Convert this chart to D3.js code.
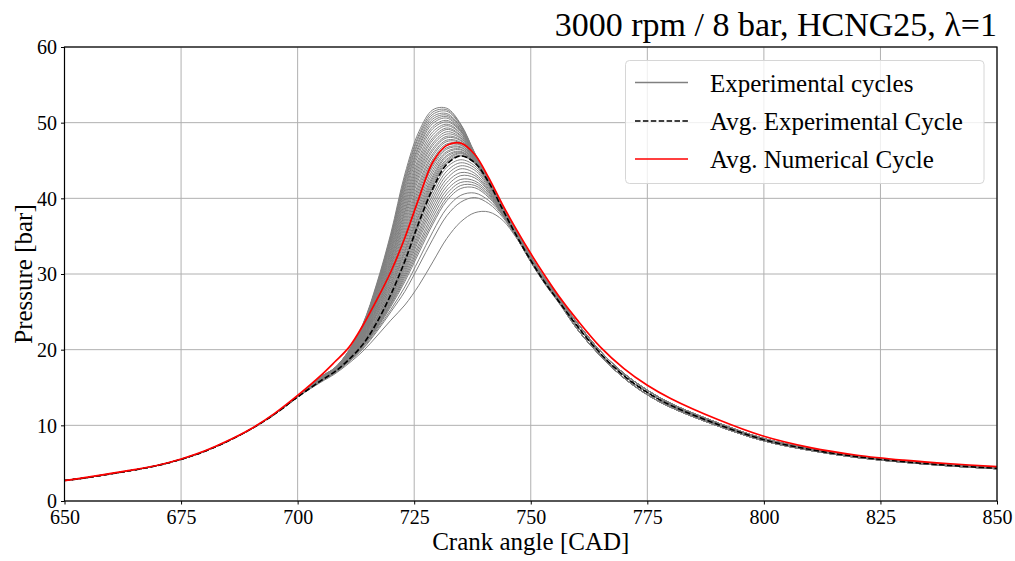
<!DOCTYPE html>
<html>
<head>
<meta charset="utf-8">
<script src="https://cdn.jsdelivr.net/npm/d3@7"></script>
<style>
  html, body { margin: 0; padding: 0; background: #ffffff; }
  svg { display: block; }
  text { font-family: "Liberation Serif", "Times New Roman", serif; fill: #000; }
</style>
</head>
<body>
<svg id="chart" width="1015" height="561"></svg>
<script>
// Crank angle samples [CAD]: compression, combustion window, expansion
const angleEarly = [650, 655, 660, 665, 670, 675, 680, 685, 690, 695, 700];
const angleWindow = [705, 708, 711, 714, 717, 720, 723, 726, 729, 732, 735, 738, 741, 744, 747, 750, 753, 756];
const angleTail = [760, 765, 770, 775, 780, 790, 800, 810, 820, 830, 840, 850];

// Compression stroke pressure shared by the measured cycles [bar]
const expEarly = [2.7, 3.1, 3.6, 4.1, 4.7, 5.5, 6.55, 7.9, 9.5, 11.45, 13.75];

// Measured cycles in the combustion window [bar]
const cycleWindow = [
  [16.4, 17.6, 19.9, 23.4, 28.8, 35.4, 43.2, 48.8, 51.7, 51.9, 49.8, 46.0, 42.6, 38.9, 35.6, 32.4, 29.5, 27.0],
  [16.4, 17.6, 19.9, 23.3, 28.6, 35.1, 42.8, 48.4, 51.4, 51.7, 49.7, 45.9, 42.5, 38.7, 35.4, 32.2, 29.3, 26.8],
  [16.4, 17.6, 19.8, 23.3, 28.5, 34.9, 42.5, 48.1, 51.1, 51.5, 49.6, 45.9, 42.4, 38.6, 35.2, 32.0, 29.1, 26.6],
  [16.4, 17.6, 19.8, 23.2, 28.3, 34.7, 42.2, 47.7, 50.8, 51.2, 49.4, 45.8, 42.4, 38.7, 35.3, 32.1, 29.2, 26.7],
  [16.4, 17.6, 19.8, 23.1, 28.2, 34.5, 41.9, 47.4, 50.5, 51.0, 49.3, 45.8, 42.3, 38.5, 35.0, 31.8, 28.9, 26.4],
  [16.3, 17.5, 19.7, 23.0, 28.0, 34.2, 41.5, 47.0, 50.2, 50.8, 49.1, 45.8, 42.4, 38.6, 35.2, 32.0, 29.1, 26.6],
  [16.3, 17.5, 19.7, 23.0, 27.9, 34.0, 41.2, 46.7, 49.9, 50.6, 49.0, 45.8, 42.5, 38.8, 35.5, 32.3, 29.4, 26.9],
  [16.3, 17.5, 19.6, 22.9, 27.7, 33.7, 40.8, 46.3, 49.5, 50.3, 48.9, 45.7, 42.3, 38.5, 35.0, 31.7, 28.8, 26.3],
  [16.3, 17.5, 19.6, 22.8, 27.6, 33.4, 40.4, 45.9, 49.2, 50.1, 48.8, 45.7, 42.3, 38.5, 35.1, 31.9, 29.0, 26.5],
  [16.3, 17.5, 19.6, 22.7, 27.4, 33.1, 40.0, 45.4, 48.8, 49.8, 48.6, 45.6, 42.3, 38.6, 35.3, 32.1, 29.2, 26.7],
  [16.3, 17.5, 19.6, 22.6, 27.2, 32.9, 39.6, 45.0, 48.4, 49.6, 48.5, 45.6, 42.2, 38.4, 35.0, 31.7, 28.8, 26.3],
  [16.2, 17.4, 19.5, 22.5, 27.0, 32.6, 39.2, 44.6, 48.0, 49.3, 48.3, 45.5, 42.2, 38.5, 35.1, 31.9, 29.0, 26.5],
  [16.2, 17.4, 19.5, 22.4, 26.9, 32.3, 38.8, 44.2, 47.7, 49.1, 48.2, 45.5, 42.4, 38.7, 35.4, 32.2, 29.3, 26.8],
  [16.2, 17.4, 19.4, 22.3, 26.7, 32.0, 38.4, 43.8, 47.3, 48.8, 48.0, 45.4, 42.2, 38.5, 35.0, 31.7, 28.8, 26.3],
  [16.2, 17.4, 19.4, 22.3, 26.5, 31.8, 38.1, 43.4, 47.0, 48.5, 47.9, 45.4, 42.3, 38.6, 35.2, 32.0, 29.1, 26.6],
  [16.2, 17.4, 19.3, 22.2, 26.3, 31.5, 37.7, 43.0, 46.6, 48.2, 47.7, 45.3, 42.3, 38.7, 35.3, 32.1, 29.2, 26.7],
  [16.2, 17.4, 19.3, 22.1, 26.2, 31.2, 37.3, 42.6, 46.3, 48.0, 47.6, 45.3, 42.1, 38.4, 35.0, 31.7, 28.8, 26.3],
  [16.2, 17.4, 19.2, 22.0, 26.0, 31.0, 36.9, 42.1, 45.9, 47.7, 47.4, 45.2, 42.2, 38.5, 35.1, 31.9, 29.0, 26.5],
  [16.2, 17.4, 19.2, 21.9, 25.8, 30.7, 36.5, 41.7, 45.6, 47.5, 47.3, 45.2, 42.3, 38.8, 35.4, 32.3, 29.4, 26.9],
  [16.1, 17.3, 19.2, 21.8, 25.6, 30.4, 36.1, 41.3, 45.2, 47.2, 47.1, 45.1, 42.1, 38.4, 34.9, 31.7, 28.8, 26.3],
  [16.1, 17.3, 19.2, 21.7, 25.5, 30.1, 35.7, 40.9, 44.9, 47.0, 47.0, 45.1, 42.2, 38.6, 35.2, 32.0, 29.1, 26.6],
  [16.1, 17.3, 19.1, 21.6, 25.3, 29.8, 35.3, 40.5, 44.5, 46.7, 46.8, 45.0, 42.2, 38.7, 35.3, 32.1, 29.2, 26.7],
  [16.1, 17.3, 19.1, 21.6, 25.1, 29.6, 34.9, 40.1, 44.2, 46.5, 46.7, 45.0, 42.0, 38.4, 34.9, 31.7, 28.8, 26.3],
  [16.1, 17.3, 19.0, 21.5, 24.9, 29.3, 34.5, 39.6, 43.8, 46.2, 46.5, 44.9, 42.1, 38.5, 35.1, 31.9, 29.0, 26.5],
  [16.1, 17.3, 19.0, 21.4, 24.8, 29.0, 34.1, 39.2, 43.4, 46.0, 46.4, 44.9, 42.2, 38.7, 35.3, 32.2, 29.3, 26.8],
  [16.1, 17.3, 18.9, 21.3, 24.6, 28.7, 33.7, 38.8, 43.0, 45.7, 46.2, 44.8, 42.0, 38.4, 34.9, 31.6, 28.8, 26.3],
  [16.1, 17.3, 18.9, 21.2, 24.4, 28.5, 33.3, 38.4, 42.7, 45.5, 46.1, 44.8, 42.1, 38.6, 35.2, 32.0, 29.1, 26.6],
  [16.0, 17.2, 18.9, 21.1, 24.2, 28.2, 33.0, 38.0, 42.4, 45.2, 46.0, 44.7, 42.1, 38.6, 35.3, 32.1, 29.2, 26.7],
  [16.0, 17.2, 18.9, 21.1, 24.1, 28.0, 32.7, 37.7, 42.1, 45.0, 45.9, 44.7, 41.9, 38.3, 34.9, 31.6, 28.8, 26.3],
  [16.0, 17.2, 18.8, 21.0, 23.9, 27.7, 32.3, 37.3, 41.8, 44.8, 45.7, 44.6, 41.9, 38.4, 35.0, 31.8, 28.9, 26.4],
  [16.0, 17.2, 18.8, 20.9, 23.8, 27.5, 32.0, 37.0, 41.5, 44.6, 45.6, 44.6, 42.0, 38.5, 35.1, 32.0, 29.1, 26.6],
  [16.0, 17.2, 18.7, 20.8, 23.7, 27.3, 31.7, 36.6, 41.0, 44.1, 45.1, 44.3, 41.8, 38.4, 35.0, 31.8, 28.9, 26.4],
  [16.0, 17.2, 18.7, 20.8, 23.6, 27.1, 31.4, 36.2, 40.5, 43.6, 44.7, 44.0, 41.6, 38.4, 35.2, 32.1, 29.2, 26.7],
  [16.0, 17.1, 18.7, 20.7, 23.5, 26.9, 31.1, 35.7, 40.0, 43.1, 44.3, 43.7, 41.4, 38.3, 35.2, 32.1, 29.2, 26.7],
  [15.9, 17.1, 18.7, 20.7, 23.4, 26.8, 30.8, 35.3, 39.5, 42.6, 43.9, 43.3, 41.2, 38.2, 35.0, 31.9, 29.0, 26.5],
  [15.9, 17.1, 18.6, 20.6, 23.3, 26.6, 30.5, 34.9, 39.0, 42.1, 43.4, 43.0, 41.0, 38.1, 34.9, 31.8, 28.9, 26.4],
  [15.9, 17.1, 18.6, 20.6, 23.2, 26.4, 30.2, 34.5, 38.5, 41.6, 43.0, 42.7, 40.9, 38.0, 34.8, 31.6, 28.7, 26.2],
  [15.9, 17.0, 18.6, 20.5, 23.1, 26.2, 29.9, 34.0, 38.0, 41.1, 42.5, 42.3, 40.7, 37.9, 34.8, 31.7, 28.8, 26.3],
  [15.9, 17.0, 18.6, 20.5, 23.0, 26.1, 29.6, 33.6, 37.5, 40.6, 42.1, 42.0, 40.5, 37.9, 35.0, 32.1, 29.2, 26.7],
  [15.9, 17.0, 18.5, 20.4, 22.9, 25.9, 29.3, 33.2, 37.0, 40.1, 41.7, 41.7, 40.3, 37.8, 35.0, 32.0, 29.1, 26.6],
  [15.9, 17.0, 18.5, 20.4, 22.8, 25.7, 29.0, 32.8, 36.6, 39.7, 41.3, 41.4, 40.1, 37.8, 34.9, 31.9, 29.0, 26.5],
  [15.8, 17.0, 18.4, 20.2, 22.6, 25.3, 28.3, 31.9, 35.6, 38.7, 40.4, 40.7, 39.7, 37.7, 34.8, 31.8, 28.9, 26.4],
  [15.8, 16.9, 18.4, 20.1, 22.4, 25.0, 27.7, 31.1, 34.6, 37.7, 39.5, 40.1, 39.3, 37.5, 34.8, 31.9, 29.0, 26.5],
  [15.7, 16.8, 18.2, 19.8, 21.8, 23.9, 25.9, 28.5, 31.6, 34.7, 36.9, 38.1, 38.2, 37.1, 34.7, 31.9, 29.0, 26.5]
];

// Expansion stroke pressure of the measured cycles [bar]
const expTails = [
  [23.5, 19.75, 16.85, 14.65, 12.9, 10.35, 8.25, 6.92, 5.95, 5.28, 4.77, 4.38],
  [23.1, 19.45, 16.55, 14.35, 12.65, 10.15, 8.1, 6.8, 5.85, 5.2, 4.7, 4.32],
  [22.7, 19.15, 16.25, 14.05, 12.4, 9.95, 7.95, 6.68, 5.75, 5.12, 4.63, 4.26]
];
const cycleTail = [0, 1, 1, 0, 2, 1, 0, 2, 1, 0, 2, 1, 0, 2, 1, 0, 2, 1, 0, 2, 1, 0, 2, 1, 0, 2, 1, 0, 2, 1, 1, 2, 0, 0, 1, 1, 2, 2, 0, 1, 1, 2, 1, 1];

// Average measured cycle [bar]
const avgExpEarly = [2.7, 3.1, 3.6, 4.1, 4.7, 5.5, 6.55, 7.9, 9.5, 11.45, 13.75];
const avgExpWindow = [15.9, 17.1, 18.7, 20.7, 23.6, 27.3, 31.7, 36.8, 41.3, 44.5, 45.6, 44.7, 42.1, 38.5, 35.0, 31.8, 28.9, 26.4];
const avgExpTail = [23.1, 19.45, 16.55, 14.35, 12.65, 10.15, 8.1, 6.8, 5.85, 5.2, 4.7, 4.32];

// Average simulated cycle [bar]
const numEarly = [2.7, 3.15, 3.65, 4.15, 4.72, 5.55, 6.6, 7.95, 9.55, 11.55, 13.95];
const numWindow = [16.6, 18.4, 20.3, 23.2, 26.6, 30.3, 34.8, 40.0, 44.8, 47.0, 47.3, 45.8, 42.7, 39.1, 35.8, 32.7, 29.8, 27.1];
const numTail = [23.9, 20.3, 17.5, 15.3, 13.55, 10.8, 8.55, 7.05, 6.05, 5.4, 4.92, 4.55];

const xTicks = [650, 675, 700, 725, 750, 775, 800, 825, 850];
const yTicks = [0, 10, 20, 30, 40, 50, 60];
const titleText = "3000 rpm / 8 bar, HCNG25, \u03bb=1";
const xLabel = "Crank angle [CAD]";
const yLabel = "Pressure [bar]";
const legendLabels = ["Experimental cycles", "Avg. Experimental Cycle", "Avg. Numerical Cycle"];

const angles = angleEarly.concat(angleWindow, angleTail);
const toPoints = vals => angles.map((a, i) => [a, vals[i]]);

const svg = d3.select("#chart");
const plot = { left: 64.5, right: 997, top: 47, bottom: 501 };

const x = d3.scaleLinear().domain([650, 850]).range([plot.left, plot.right]);
const y = d3.scaleLinear().domain([0, 60]).range([plot.bottom, plot.top]);

svg.append("defs").append("clipPath").attr("id", "plot-clip")
  .append("rect")
  .attr("x", plot.left).attr("y", plot.top)
  .attr("width", plot.right - plot.left).attr("height", plot.bottom - plot.top);

// Grid
const grid = svg.append("g").attr("stroke", "#b0b0b0").attr("stroke-width", 1);
grid.selectAll("line.gx").data(xTicks).join("line")
  .attr("x1", d => x(d)).attr("x2", d => x(d))
  .attr("y1", plot.top).attr("y2", plot.bottom);
grid.selectAll("line.gy").data(yTicks).join("line")
  .attr("x1", plot.left).attr("x2", plot.right)
  .attr("y1", d => y(d)).attr("y2", d => y(d));

const line = d3.line()
  .x(d => x(d[0]))
  .y(d => y(d[1]))
  .curve(d3.curveCatmullRom.alpha(0.5));

const lines = svg.append("g").attr("clip-path", "url(#plot-clip)");

// Individual measured cycles
lines.selectAll("path.cycle").data(cycleWindow).join("path")
  .attr("class", "cycle")
  .attr("fill", "none")
  .attr("stroke", "#808080")
  .attr("stroke-width", 1)
  .attr("d", (w, i) => line(toPoints(expEarly.concat(w, expTails[cycleTail[i]]))));

// Average measured cycle
lines.append("path")
  .attr("fill", "none")
  .attr("stroke", "#000")
  .attr("stroke-width", 1.6)
  .attr("stroke-dasharray", "5.5,2.4")
  .attr("d", line(toPoints(avgExpEarly.concat(avgExpWindow, avgExpTail))));

// Average simulated cycle
lines.append("path")
  .attr("fill", "none")
  .attr("stroke", "#ff0000")
  .attr("stroke-width", 1.7)
  .attr("d", line(toPoints(numEarly.concat(numWindow, numTail))));

// Axes
const xAxis = svg.append("g")
  .attr("transform", `translate(0,${plot.bottom})`)
  .call(d3.axisBottom(x).tickValues(xTicks).tickSize(3.5).tickPadding(4).tickFormat(d3.format("d")));
const yAxis = svg.append("g")
  .attr("transform", `translate(${plot.left},0)`)
  .call(d3.axisLeft(y).tickValues(yTicks).tickSize(3.5).tickPadding(4).tickFormat(d3.format("d")));
[xAxis, yAxis].forEach(g => {
  g.select(".domain").remove();
  g.selectAll(".tick line").attr("stroke", "#000").attr("stroke-width", 1);
  g.selectAll(".tick text")
    .style("font-family", "'Liberation Serif', serif")
    .style("font-size", "20px")
    .attr("fill", "#000");
});
xAxis.selectAll(".tick text").attr("dy", "0.78em");
yAxis.selectAll(".tick text").attr("dy", "0.34em");

// Frame
svg.append("rect")
  .attr("x", plot.left).attr("y", plot.top)
  .attr("width", plot.right - plot.left).attr("height", plot.bottom - plot.top)
  .attr("fill", "none").attr("stroke", "#000").attr("stroke-width", 1.2);

// Labels
svg.append("text")
  .attr("x", (plot.left + plot.right) / 2).attr("y", 550)
  .attr("text-anchor", "middle")
  .style("font-size", "25px")
  .text(xLabel);
svg.append("text")
  .attr("transform", `translate(32,${(plot.top + plot.bottom) / 2}) rotate(-90)`)
  .attr("text-anchor", "middle")
  .style("font-size", "25px")
  .text(yLabel);
svg.append("text")
  .attr("x", plot.right).attr("y", 36)
  .attr("text-anchor", "end")
  .style("font-size", "34px")
  .text(titleText);

// Legend
const legend = svg.append("g");
legend.append("rect")
  .attr("x", 625.5).attr("y", 60.5).attr("width", 358.5).attr("height", 123)
  .attr("rx", 4).attr("ry", 4)
  .attr("fill", "#ffffff").attr("fill-opacity", 0.8)
  .attr("stroke", "#d6d6d6").attr("stroke-width", 1);
const legendStyles = [
  { color: "#808080", width: 1.5, dash: null },
  { color: "#000000", width: 1.6, dash: "5.5,2.4" },
  { color: "#ff0000", width: 1.7, dash: null }
];
const rowY = [82.5, 121, 159];
legendLabels.forEach((label, i) => {
  const s = legendStyles[i];
  legend.append("line")
    .attr("x1", 635).attr("x2", 688)
    .attr("y1", rowY[i]).attr("y2", rowY[i])
    .attr("stroke", s.color).attr("stroke-width", s.width)
    .attr("stroke-dasharray", s.dash);
  legend.append("text")
    .attr("x", 710).attr("y", rowY[i] + 9)
    .style("font-size", "25px")
    .text(label);
});
</script>
</body>
</html>
